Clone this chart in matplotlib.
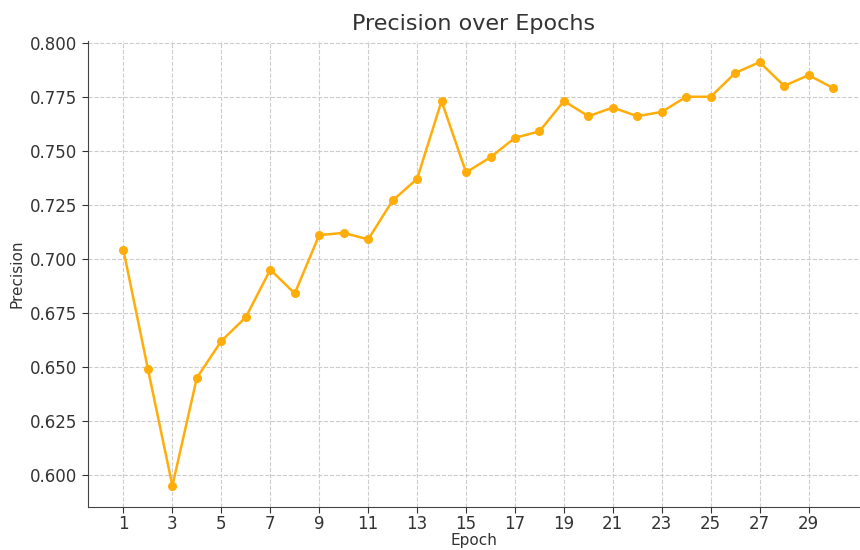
import matplotlib
matplotlib.use("Agg")
import matplotlib.pyplot as plt

epochs = list(range(1, 31))
precision = [0.704, 0.649, 0.595, 0.645, 0.662, 0.673, 0.695, 0.684, 0.711, 0.712,
             0.709, 0.727, 0.737, 0.773, 0.740, 0.747, 0.756, 0.759, 0.773, 0.766,
             0.770, 0.766, 0.768, 0.775, 0.775, 0.786, 0.791, 0.780, 0.785, 0.779]
xticks = list(range(1, 31, 2))

fig = plt.figure(figsize=(8.6, 5.5), dpi=100)
ax = fig.add_axes([0.1023, 0.0782, 0.8977, 0.8473])
ax.plot(epochs, precision, color='#FFAD0A', marker='o', markersize=5.5, linewidth=1.8)
ax.set_xlim(-0.45, 31.1)
ax.set_ylim(0.5852, 0.8008)
ax.set_xticks(xticks)
ax.set_yticks([0.600, 0.625, 0.650, 0.675, 0.700, 0.725, 0.750, 0.775, 0.800])
ax.yaxis.set_major_formatter(matplotlib.ticker.FormatStrFormatter('%.3f'))
ax.grid(True, linestyle='--', color='#cccccc', linewidth=0.8)
for s in ['top', 'right']:
    ax.spines[s].set_visible(False)
for s in ['left', 'bottom']:
    ax.spines[s].set_color('#444444')
ax.tick_params(labelsize=12, colors='#333333', length=4)
ax.tick_params(axis='x', pad=2)
ax.set_xlabel('Epoch', fontsize=11, color='#333333', labelpad=0)
ax.set_ylabel('Precision', fontsize=11, color='#333333', labelpad=4)
ax.set_title('Precision over Epochs', fontsize=16, color='#333333', pad=8)
fig.savefig('out.png', dpi=100)
